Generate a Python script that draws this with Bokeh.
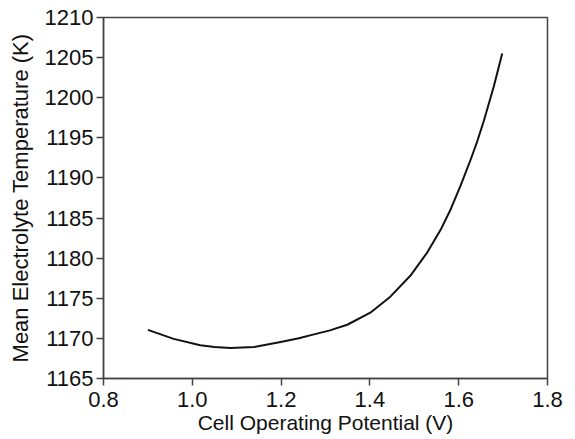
from bokeh.plotting import figure
from bokeh.models import Range1d, FixedTicker, NumeralTickFormatter
from bokeh.embed import file_html
from bokeh.resources import INLINE

# Cell operating potential (V) and mean electrolyte temperature (K)
potential = [0.900, 0.958, 1.018, 1.050, 1.086, 1.139, 1.199, 1.240, 1.274, 1.310,
             1.349, 1.401, 1.446, 1.491, 1.529, 1.559, 1.582, 1.604, 1.627, 1.642,
             1.657, 1.679, 1.698]
temperature = [1171.06, 1169.94, 1169.15, 1168.93, 1168.81, 1168.92, 1169.55, 1170.02, 1170.50, 1171.00,
               1171.70, 1173.20, 1175.20, 1177.80, 1180.70, 1183.50, 1186.10, 1189.00, 1192.30, 1194.60,
               1197.20, 1201.40, 1205.50]

x_ticks = [0.8, 1.0, 1.2, 1.4, 1.6, 1.8]
y_ticks = [1165, 1170, 1175, 1180, 1185, 1190, 1195, 1200, 1205, 1210]

FONT = "Liberation Sans"

p = figure(width=575, height=439, output_backend="svg", toolbar_location=None,
           x_range=Range1d(0.8, 1.8), y_range=Range1d(1165, 1210),
           min_border_left=103, min_border_right=28, min_border_top=17, min_border_bottom=61)

p.line(potential, temperature, line_color="#111111", line_width=2, line_join="round")

p.xgrid.visible = False
p.ygrid.visible = False
p.background_fill_color = "white"
p.border_fill_color = "white"
p.outline_line_color = "#444444"
p.outline_line_width = 1.5

p.xaxis.ticker = FixedTicker(ticks=x_ticks)
p.yaxis.ticker = FixedTicker(ticks=y_ticks)
p.xaxis.formatter = NumeralTickFormatter(format="0.0")
p.xaxis.axis_label = "Cell Operating Potential (V)"
p.yaxis.axis_label = "Mean Electrolyte Temperature (K)"

for ax in (p.xaxis[0], p.yaxis[0]):
    ax.axis_line_color = "#444444"
    ax.axis_line_width = 1.5
    ax.major_tick_line_color = "#444444"
    ax.major_tick_line_width = 1.5
    ax.major_tick_out = 7
    ax.major_tick_in = 0
    ax.minor_tick_line_color = None
    ax.major_label_text_font = FONT
    ax.major_label_text_font_size = "22px"
    ax.major_label_text_color = "#111111"
    ax.axis_label_text_font = FONT
    ax.axis_label_text_font_style = "normal"
    ax.axis_label_text_color = "#111111"

p.xaxis.axis_label_text_font_size = "21px"
p.yaxis.axis_label_text_font_size = "22px"
p.xaxis.major_label_standoff = 6
p.xaxis.axis_label_standoff = 1
p.yaxis.major_label_standoff = 3
p.yaxis.axis_label_standoff = 9

open("out.html", "w").write(file_html(p, INLINE))
